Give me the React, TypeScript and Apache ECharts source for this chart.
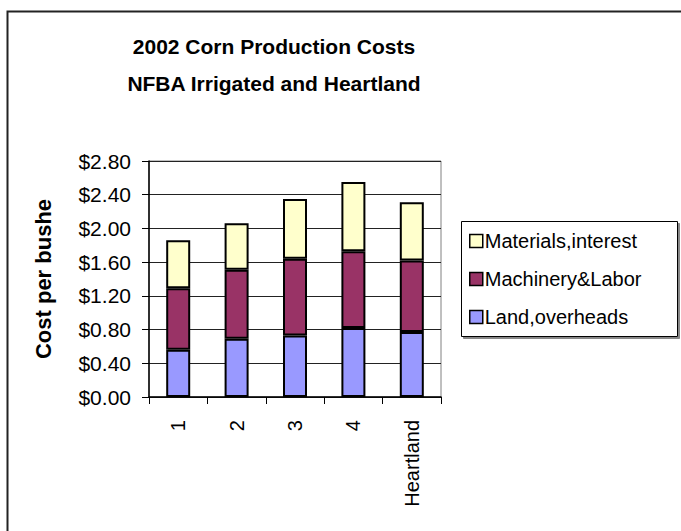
import React, { useEffect, useRef } from "react";
import * as echarts from "echarts";

const categories = ["1", "2", "3", "4", "Heartland"];
const landOverheads = [0.56, 0.69, 0.73, 0.82, 0.77];
const machineryLabor = [0.73, 0.82, 0.91, 0.91, 0.85];
const materialsInterest = [0.57, 0.55, 0.71, 0.82, 0.69];
const yTicks = { min: 0, max: 2.8, interval: 0.4 };
const titleLines = ["2002 Corn Production Costs", "NFBA Irrigated and Heartland"];
const yAxisName = "Cost per bushe";

const FONT = "'Liberation Sans', Arial, sans-serif";

export default function App() {
  const ref = useRef<HTMLDivElement>(null);
  useEffect(() => {
    if (!ref.current) return;
    const chart = echarts.init(ref.current, null, { renderer: "svg" });
    const barStyle = (color: string) => ({
      color,
      borderColor: "#000",
      borderWidth: 2,
    });
    chart.setOption({
      animation: false,
      backgroundColor: "#fff",
      textStyle: { fontFamily: FONT },
      title: {
        text: titleLines.join("\n"),
        left: 274,
        top: 28,
        padding: 0,
        textAlign: "center",
        textStyle: {
          fontFamily: FONT,
          fontWeight: "bold",
          fontSize: 21,
          lineHeight: 37,
          color: "#000",
        },
      },
      graphic: [
        {
          type: "rect",
          left: 5,
          top: 9,
          shape: { width: 720, height: 600 },
          style: { fill: "none", stroke: "#222", lineWidth: 2 },
          silent: true,
        },
        {
          type: "rect",
          left: 461,
          top: 221,
          shape: { width: 216, height: 115 },
          style: {
            fill: "#fff",
            stroke: "#000",
            lineWidth: 1,
            shadowColor: "#888",
            shadowOffsetX: 2,
            shadowOffsetY: 2,
            shadowBlur: 0,
          },
          silent: true,
          z: -1,
        },
      ],
      legend: {
        orient: "vertical",
        left: 469,
        top: 231,
        padding: 0,
        itemWidth: 13,
        itemHeight: 13,
        itemGap: 18,
        data: ["Materials,interest", "Machinery&Labor", "Land,overheads"],
        itemStyle: { borderColor: "#000", borderWidth: 1.5 },
        textStyle: {
          fontFamily: FONT,
          fontSize: 20,
          lineHeight: 20,
          color: "#000",
          padding: [0, 0, 0, -3],
        },
        icon: "rect",
      },
      grid: {
        left: 149,
        top: 161,
        width: 292,
        height: 236,
        show: true,
        borderColor: "#808080",
        borderWidth: 1,
        backgroundColor: "transparent",
      },
      xAxis: {
        type: "category",
        data: categories,
        axisLine: { lineStyle: { color: "#000", width: 1.5 } },
        axisTick: { show: true, length: 7, lineStyle: { color: "#000" } },
        axisLabel: {
          rotate: 90,
          margin: 23,
          fontFamily: FONT,
          fontSize: 20,
          color: "#000",
        },
      },
      yAxis: {
        type: "value",
        min: yTicks.min,
        max: yTicks.max,
        interval: yTicks.interval,
        name: yAxisName,
        nameLocation: "middle",
        nameGap: 95,
        nameTextStyle: {
          fontFamily: FONT,
          fontWeight: "bold",
          fontSize: 22,
          color: "#000",
        },
        axisLine: { show: true, lineStyle: { color: "#000", width: 1.5 } },
        axisTick: { show: true, length: 7, lineStyle: { color: "#000" } },
        axisLabel: {
          margin: 18,
          fontFamily: FONT,
          fontSize: 21,
          color: "#000",
          formatter: (v: number) => "$" + v.toFixed(2),
        },
        splitLine: { show: true, lineStyle: { color: "#222", width: 1 } },
      },
      series: [
        {
          name: "Land,overheads",
          type: "bar",
          stack: "total",
          barWidth: 24,
          data: landOverheads,
          itemStyle: barStyle("#9999FF"),
        },
        {
          name: "Machinery&Labor",
          type: "bar",
          stack: "total",
          barWidth: 24,
          data: machineryLabor,
          itemStyle: barStyle("#993366"),
        },
        {
          name: "Materials,interest",
          type: "bar",
          stack: "total",
          barWidth: 24,
          data: materialsInterest,
          itemStyle: barStyle("#FFFFCC"),
        },
      ],
    });
    return () => chart.dispose();
  }, []);
  return (
    <div
      ref={ref}
      style={{ position: "absolute", left: 0, top: 0, width: 681, height: 531 }}
    />
  );
}
